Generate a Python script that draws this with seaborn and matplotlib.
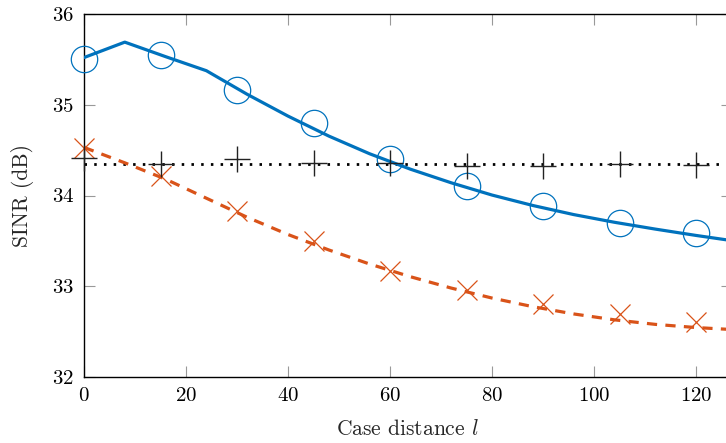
import matplotlib
matplotlib.use("Agg")
import matplotlib.pyplot as plt
import seaborn as sns
import pandas as pd

# ---- data ----
theory_l = [0, 8, 16, 24, 32, 40, 48, 56, 64, 72, 80, 88, 96, 104, 112, 120, 128]
blue_theory = [35.52, 35.69, 35.53, 35.375, 35.115, 34.875, 34.655, 34.46, 34.29,
               34.14, 34.005, 33.89, 33.79, 33.705, 33.63, 33.56, 33.495]
red_theory = [34.53, 34.36, 34.18, 33.97, 33.76, 33.57, 33.40, 33.245, 33.105,
              32.98, 32.87, 32.775, 32.695, 32.63, 32.58, 32.545, 32.52]
black_level = 34.35

sim_l = [0, 15, 30, 45, 60, 75, 90, 105, 120]
blue_sim = [35.50, 35.55, 35.16, 34.80, 34.40, 34.10, 33.88, 33.70, 33.59]
red_sim = [34.52, 34.21, 33.83, 33.50, 33.17, 32.96, 32.80, 32.69, 32.61]
black_sim = [34.41, 34.35, 34.40, 34.36, 34.36, 34.32, 34.33, 34.35, 34.34]

x_ticks = [0, 20, 40, 60, 80, 100, 120]
y_ticks = [32, 33, 34, 35, 36]
x_label = "Case distance $l$"
y_label = "SINR (dB)"

BLUE = "#0072BD"
RED = "#D95319"

sns.set_theme(style="white")
plt.rcParams["font.family"] = ["cmr10", "DejaVu Serif"]
plt.rcParams["mathtext.fontset"] = "cm"
plt.rcParams["axes.formatter.use_mathtext"] = True
plt.rcParams["axes.unicode_minus"] = False

W, H = 726, 443
fig = plt.figure(figsize=(W / 100, H / 100), dpi=100)
x0, x1, ytop, ybot = 84, 731.7, 14, 377
ax = fig.add_axes([x0 / W, (H - ybot) / H, (x1 - x0) / W, (ybot - ytop) / H])

th = pd.DataFrame({"l": theory_l, "blue": blue_theory, "red": red_theory})
sim = pd.DataFrame({"l": sim_l, "blue": blue_sim, "red": red_sim, "black": black_sim})

ax.axhline(black_level, color="black", lw=2.0, ls=(0, (0.9, 2.6)), zorder=2)
sns.lineplot(data=th, x="l", y="blue", ax=ax, color=BLUE, lw=2.3, zorder=3)
sns.lineplot(data=th, x="l", y="red", ax=ax, color=RED, lw=2.3, zorder=3,
             linestyle=(0, (3.2, 2.6)))

sns.lineplot(data=sim, x="l", y="blue", ax=ax, linestyle="none", marker="o",
             markersize=19, markerfacecolor="none", markeredgecolor=BLUE,
             markeredgewidth=0.9, clip_on=False, zorder=4)
sns.lineplot(data=sim, x="l", y="red", ax=ax, linestyle="none", marker="x",
             markersize=14, markeredgecolor=RED, color=RED,
             markeredgewidth=0.9, clip_on=False, zorder=4)
sns.lineplot(data=sim, x="l", y="black", ax=ax, linestyle="none", marker="+",
             markersize=19, markeredgecolor="#222222", color="#222222",
             markeredgewidth=1.0, clip_on=False, zorder=4)

ax.set_xlim(0, 127)
ax.set_ylim(32, 36)
ax.set_xticks(x_ticks)
ax.set_yticks(y_ticks)
ax.tick_params(direction="in", length=8, width=0.8, color="#999999",
               top=True, right=True, bottom=True, left=True,
               labelsize=15, labelcolor="black", pad=7)
for s in ax.spines.values():
    s.set_color("black")
    s.set_linewidth(1.0)
ax.set_xlabel(x_label, fontsize=15.5, labelpad=10)
ax.set_ylabel(y_label, fontsize=15.5, labelpad=13)
ax.grid(False)

fig.savefig("out.png", dpi=100)
